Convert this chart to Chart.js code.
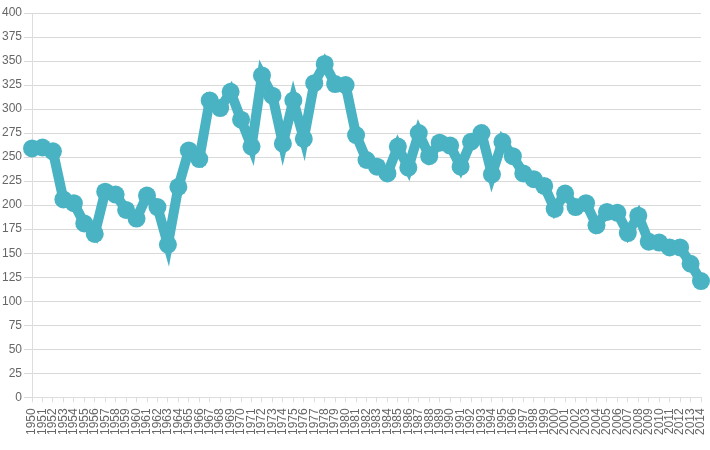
<!DOCTYPE html>
<html>
<head>
<meta charset="utf-8">
<script src="https://cdn.jsdelivr.net/npm/chart.js@4/dist/chart.umd.min.js"></script>
<style>
  html, body { margin: 0; padding: 0; background: #fff; }
  #wrap { width: 710px; height: 450px; }
</style>
</head>
<body>
<div id="wrap"><canvas id="chart"></canvas></div>
<script>
// ==========================================
// DATA
// ==========================================
const years = [];
for (let y = 1950; y <= 2014; y++) years.push(String(y));

const values = [
    259, 260, 256, 206, 202, 181, 170, 214, 211, 195,
    186, 210, 198, 159, 219, 257, 248, 309, 301, 318,
    289, 261, 335, 314, 264, 309, 269, 327, 347, 326,
    325, 273, 247, 240, 233, 261, 239, 275, 251, 265,
    262, 240, 266, 275, 232, 266, 251, 233, 227, 220,
    196, 212, 198, 202, 179, 193, 192, 171, 189, 162,
    161, 156, 156, 139, 121
];

const lineColor = '#4ab3c3';

// ==========================================
// CHART
// ==========================================
Chart.defaults.font.family = "'Liberation Sans', Arial, sans-serif";
Chart.defaults.font.size = 12;
Chart.defaults.color = '#666';

new Chart(document.getElementById('chart').getContext('2d'), {
    type: 'line',
    data: {
        labels: years,
        datasets: [{
            data: values,
            borderColor: lineColor,
            backgroundColor: lineColor,
            borderWidth: 10,
            pointRadius: 9,
            pointHoverRadius: 9,
            pointBorderWidth: 0,
            fill: false,
            tension: 0
        }]
    },
    options: {
        responsive: true,
        maintainAspectRatio: false,
        animation: false,
        layout: { padding: { top: 13, right: 0, bottom: 9 } },
        plugins: {
            legend: { display: false },
            tooltip: { enabled: false }
        },
        scales: {
            x: {
                grid: { display: true, drawOnChartArea: false, color: '#ddd', tickLength: 5 },
                border: { color: '#ddd' },
                ticks: { autoSkip: false, minRotation: 90, maxRotation: 90, padding: 6 },
                // last rotated label only needs a few pixels on the right
                afterFit: (scale) => { scale.paddingRight = 3; }
            },
            y: {
                min: 0,
                max: 400,
                grid: { color: '#d9d9d9', tickLength: 8 },
                border: { color: '#ddd' },
                ticks: { stepSize: 25, padding: 2 }
            }
        }
    }
});
</script>
</body>
</html>
